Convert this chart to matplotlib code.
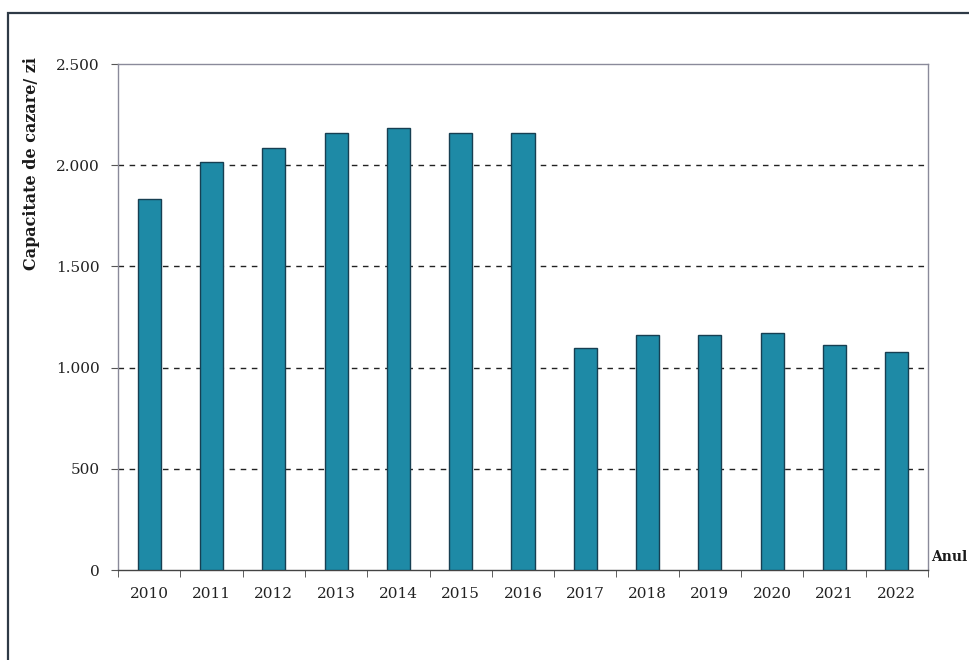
import matplotlib.pyplot as plt
from matplotlib.ticker import FuncFormatter, MultipleLocator
from matplotlib.patches import Rectangle

# Capacitate de cazare pe zi, pe ani
years = ["2010", "2011", "2012", "2013", "2014", "2015", "2016",
         "2017", "2018", "2019", "2020", "2021", "2022"]
capacity = [1833, 2016, 2085, 2159, 2184, 2159, 2159,
            1097, 1161, 1161, 1171, 1112, 1077]

y_label = "Capacitate de cazare/ zi"
x_label = "Anul"

plt.rcParams['font.family'] = ['DejaVu Serif']

fig = plt.figure(figsize=(9.7, 6.6), dpi=100)
ax = fig.add_axes([118 / 970, 1 - 570 / 660, 810 / 970, 506 / 660])

x = list(range(len(years)))
ax.bar(x, capacity, width=0.37, color="#1e8aa6", edgecolor="#173f52",
       linewidth=1.0, zorder=3)

ax.set_xlim(-0.5, len(years) - 0.5)
ax.set_ylim(0, 2500)

# thousands separator written with a dot
ax.yaxis.set_major_locator(MultipleLocator(500))
ax.yaxis.set_major_formatter(FuncFormatter(lambda v, p: f"{int(v):,}".replace(",", ".")))

ax.set_xticks(x)
ax.set_xticklabels(years)
ax.set_xticks([i + 0.5 for i in range(-1, len(years))], minor=True)
ax.tick_params(axis="x", which="major", length=0, pad=12, labelsize=11, colors="#222222")
ax.tick_params(axis="x", which="minor", length=5, direction="out", color="#444444")
ax.tick_params(axis="y", length=5, direction="out", pad=8, labelsize=11,
               colors="#222222", color="#555555")

for v in [500, 1000, 1500, 2000]:
    ax.axhline(v, color="#222222", linestyle=(0, (4, 4)), linewidth=1.0, zorder=1)

for side in ["left", "right", "top"]:
    ax.spines[side].set_color("#8a8a9a")
    ax.spines[side].set_linewidth(1.0)
ax.spines["bottom"].set_color("#444444")
ax.spines["bottom"].set_linewidth(1.0)

fig.text(32 / 970, 1 - 164 / 660, y_label, rotation=90, ha="center", va="center",
         fontsize=11.5, fontweight="bold", color="#1a1a1a")
fig.text(931 / 970, 1 - 557 / 660, x_label, ha="left", va="center",
         fontsize=10, fontweight="bold", color="#1a1a1a")

# chenar in jurul graficului
fig.patches.append(Rectangle((8 / 970, -0.1), 1.1, 1.1 - 13 / 660,
                             transform=fig.transFigure, fill=False,
                             edgecolor="#2e3a46", linewidth=1.6))

fig.savefig("out.png", dpi=100, facecolor="white")
